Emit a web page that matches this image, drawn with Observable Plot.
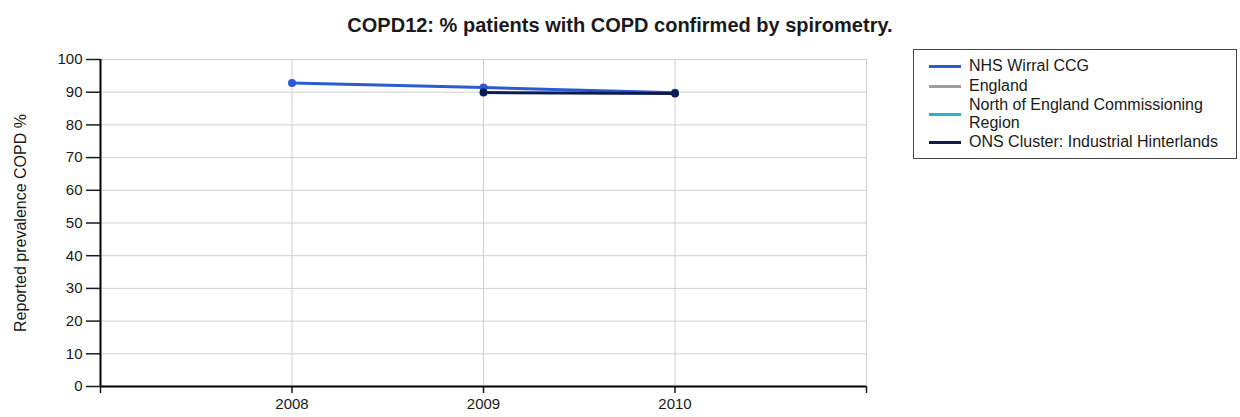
<!DOCTYPE html>
<html>
<head>
<meta charset="utf-8">
<script src="https://cdn.jsdelivr.net/npm/d3@7"></script>
<script src="https://cdn.jsdelivr.net/npm/@observablehq/plot@0.6"></script>
<style>
  html, body { margin: 0; padding: 0; background: #fff; }
  #wrap { position: relative; width: 1240px; height: 417px; overflow: hidden; font-family: "Liberation Sans", Arial, sans-serif; color: #1a1a1a; }
  #title { position: absolute; left: 0; top: 14px; width: 1240px; text-align: center; font-weight: bold; font-size: 20px; line-height: 22px; }
  #chart { position: absolute; left: 0; top: 0; }
  #legend { position: absolute; left: 913px; top: 49px; width: 322px; border: 1px solid #444; background: #fff; padding: 6px 0 6px 0; font-size: 16px; line-height: 18px; }
  .row { display: flex; align-items: center; min-height: 20px; }
  .swatch { flex: 0 0 32px; height: 3px; margin-left: 15px; margin-right: 8px; }
  .lab { flex: 1 1 auto; padding-right: 6px; }
</style>
</head>
<body>
<div id="wrap">
  <div id="chart"></div>
  <div id="title"></div>
  <div id="legend"></div>
</div>
<script>
// ---- data ----
const titleText = "COPD12: % patients with COPD confirmed by spirometry.";
const yLabel = "Reported prevalence COPD %";
const seriesNames = ["NHS Wirral CCG", "England", "North of England Commissioning Region", "ONS Cluster: Industrial Hinterlands"];
const seriesColors = ["#2a5bd0", "#9e9e9e", "#2ab4c8", "#0c1a55"];
const wirralYears = [2008, 2009, 2010];
const wirralValues = [92.8, 91.4, 89.8];
const englandYears = [];
const englandValues = [];
const northYears = [];
const northValues = [];
const onsYears = [2009, 2010];
const onsValues = [89.9, 89.6];
const xTickValues = [2007, 2008, 2009, 2010, 2011];
const xTickLabels = ["", "2008", "2009", "2010", ""];
const yTickValues = [0, 10, 20, 30, 40, 50, 60, 70, 80, 90, 100];

// ---- build rows ----
const seriesYears = [wirralYears, englandYears, northYears, onsYears];
const seriesValues = [wirralValues, englandValues, northValues, onsValues];
const rows = seriesNames.flatMap((name, i) =>
  seriesYears[i].map((yr, j) => ({ series: name, year: yr, value: seriesValues[i][j], color: seriesColors[i] })));

// draw order: England, North, Wirral, ONS (ONS on top)
const drawOrder = [1, 2, 0, 3];
const lineMarks = drawOrder.flatMap(i => {
  const d = rows.filter(r => r.series === seriesNames[i]);
  return [
    Plot.line(d, { x: "year", y: "value", stroke: seriesColors[i], strokeWidth: 3 }),
    Plot.dot(d, { x: "year", y: "value", fill: seriesColors[i], r: 4 })
  ];
});

const chart = Plot.plot({
  width: 1240,
  height: 417,
  marginTop: 59,
  marginBottom: 31,
  marginLeft: 100,
  marginRight: 374,
  style: { fontFamily: "'Liberation Sans', Arial, sans-serif", fontSize: "15px", color: "#1a1a1a", background: "transparent" },
  x: { domain: [2007, 2011] },
  y: { domain: [0, 100] },
  marks: [
    Plot.gridY(yTickValues, { stroke: "#cfcfcf", strokeOpacity: 1, strokeWidth: 1 }),
    Plot.gridX(xTickValues.slice(1), { stroke: "#cfcfcf", strokeOpacity: 1, strokeWidth: 1 }),
    Plot.axisY(yTickValues, { tickSize: 14, tickPadding: 4, label: null, strokeWidth: 1.5 }),
    Plot.axisX(xTickValues, { tickSize: 7, tickPadding: 5, label: null, strokeWidth: 1.5,
      tickFormat: (d) => xTickLabels[xTickValues.indexOf(d)] }),
    Plot.ruleX([2007], { stroke: "#000", strokeWidth: 2 }),
    Plot.ruleY([0], { stroke: "#000", strokeWidth: 2 }),
    ...lineMarks,
    Plot.text([yLabel], { frameAnchor: "left", dx: -80, rotate: -90, textAnchor: "middle", fontSize: 16, fill: "#1a1a1a" })
  ]
});
document.getElementById("chart").appendChild(chart);
document.getElementById("title").textContent = titleText;

const legend = document.getElementById("legend");
seriesNames.forEach((name, i) => {
  const row = document.createElement("div");
  row.className = "row";
  const sw = document.createElement("div");
  sw.className = "swatch";
  sw.style.background = seriesColors[i];
  const lab = document.createElement("div");
  lab.className = "lab";
  lab.textContent = name;
  row.appendChild(sw);
  row.appendChild(lab);
  legend.appendChild(row);
});
</script>
</body>
</html>
